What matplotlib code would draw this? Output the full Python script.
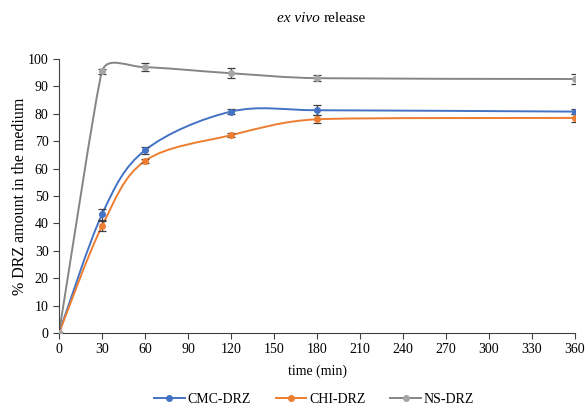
import numpy as np
import matplotlib.pyplot as plt
from matplotlib.path import Path
from matplotlib.patches import PathPatch
from matplotlib.lines import Line2D

plt.rcParams['font.family'] = ['Liberation Serif', 'DejaVu Serif']

time = [0, 30, 60, 120, 180, 360]
cmc = [0, 43.3, 66.7, 80.8, 81.3, 80.8]
cmc_err = [0, 2.0, 1.2, 0.8, 1.8, 1.0]
chi = [0, 39.0, 62.8, 72.2, 78.0, 78.5]
chi_err = [0, 1.8, 0.8, 0.7, 1.5, 1.5]
ns = [0, 95.5, 97.0, 94.8, 93.0, 92.7]
ns_err = [0, 1.0, 1.5, 1.8, 1.2, 1.8]

names = ['CMC-DRZ', 'CHI-DRZ', 'NS-DRZ']
line_colors = ['#4472C4', '#ED7D31', '#858585']
marker_colors = ['#4472C4', '#ED7D31', '#A5A5A5']


def smooth_path(ax, x, y):
    # Excel style smoothed line: cubic Bezier through the points, tangent arms
    # worked out on screen and kept short next to short segments
    pts = np.column_stack([np.asarray(x, float), np.asarray(y, float)])
    scr = ax.transData.transform(pts)
    n = len(pts)
    seg = np.hypot(*np.diff(scr, axis=0).T)

    def arm(i):
        # screen-space tangent arm at point i (unit direction * length)
        a, b = max(i - 1, 0), min(i + 1, n - 1)
        d = scr[b] - scr[a]
        dl = np.hypot(*d)
        near = [seg[k] for k in (i - 1, i) if 0 <= k < n - 1]
        length = min(dl / 6, 0.4 * min(near))
        return d / dl * length

    inv = ax.transData.inverted()
    verts = [tuple(pts[0])]
    codes = [Path.MOVETO]
    for i in range(n - 1):
        c1 = inv.transform(scr[i] + arm(i))
        c2 = inv.transform(scr[i + 1] - arm(i + 1))
        verts += [tuple(c1), tuple(c2), tuple(pts[i + 1])]
        codes += [Path.CURVE4] * 3
    return Path(verts, codes)


fig = plt.figure(figsize=(5.87, 4.12), dpi=100)
ax = fig.add_axes([0.1005, 0.1917, 0.8791, 0.6651])
ax.set_xlim(0, 360)
ax.set_ylim(0, 100)

handles = []
for vals, errs, lc, mc, name in zip([cmc, chi, ns], [cmc_err, chi_err, ns_err],
                                    line_colors, marker_colors, names):
    ax.add_patch(PathPatch(smooth_path(ax, time, vals), facecolor='none',
                           edgecolor=lc, lw=1.4, zorder=2))
    ax.errorbar(time, vals, yerr=errs, fmt='o', color=mc, ms=4,
                ecolor='#404040', elinewidth=0.9, capsize=3, capthick=0.9, zorder=3)
    handles.append(Line2D([], [], color=lc, lw=1.4, marker='o', ms=4,
                          markerfacecolor=mc, markeredgecolor=mc))

ax.set_xticks(np.arange(0, 361, 30))
ax.set_yticks(np.arange(0, 101, 10))
ax.tick_params(labelsize=10, length=4, width=0.8, color='#404040')
ax.spines['top'].set_visible(False)
ax.spines['right'].set_visible(False)
for s in ['left', 'bottom']:
    ax.spines[s].set_color('#404040')
    ax.spines[s].set_linewidth(0.8)

ax.set_xlabel('time (min)', fontsize=10, labelpad=6)
ax.set_ylabel('% DRZ amount in the medium', fontsize=11.5, labelpad=0)

fig.text(0.545, 0.955, 'ex vivo', style='italic', fontsize=11, ha='right', va='center')
fig.text(0.552, 0.955, 'release', fontsize=11, ha='left', va='center')

fig.legend(handles, names, loc='center', bbox_to_anchor=(0.535, 0.03), ncol=3,
           frameon=False, fontsize=10, handlelength=2.2, handletextpad=0.2,
           columnspacing=1.8, borderpad=0.2)

fig.savefig('out.png', dpi=100)
